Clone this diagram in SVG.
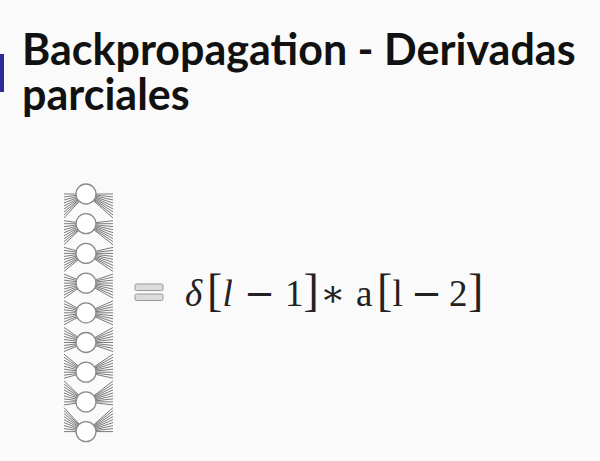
<svg xmlns="http://www.w3.org/2000/svg" width="600" height="461" viewBox="0 0 600 461">
<style>
.title{font-family:Lato,"Liberation Sans",sans-serif;font-weight:bold;font-size:43px;fill:#111}
.eq{font-family:"Liberation Serif","DejaVu Serif",serif;font-size:37px;fill:#222}
.it{font-style:italic}
.br{font-size:46px}
.op{font-family:"DejaVu Serif",serif;font-size:37px}
.edge{stroke:#7a7a7a;stroke-width:1;fill:none}
.node{fill:#fff;stroke:#8a8a8a;stroke-width:1.3}
.eqbar{fill:#dcdcdc;stroke:#999;stroke-width:1}
</style>
<rect width="600" height="461" fill="#fafafa"/>
<rect x="0" y="54" width="4" height="38" fill="#2e2a9c"/>
<text class="title" x="22" y="65">Backpropagation - Derivadas</text>
<text class="title" x="22" y="110">parciales</text>
<g id="connectors">
<path class="edge" d="M86 194L113 194M86 194L113 197M86 194L113 200M86 194L113 203M86 194L113 206M86 194L113 209M86 194L113 212M86 194L113 215M86 194L113 218
M86 194L64 194M86 194L64 197M86 194L64 200M86 194L64 203M86 194L64 206M86 194L64 209M86 194L64 212M86 194L64 215M86 194L64 218
M86 223.7L113 220.7M86 223.7L113 223.7M86 223.7L113 226.7M86 223.7L113 229.7M86 223.7L113 232.7M86 223.7L113 235.7M86 223.7L113 238.7M86 223.7L113 241.7M86 223.7L113 244.7
M86 223.7L64 220.7M86 223.7L64 223.7M86 223.7L64 226.7M86 223.7L64 229.7M86 223.7L64 232.7M86 223.7L64 235.7M86 223.7L64 238.7M86 223.7L64 241.7M86 223.7L64 244.7
M86 253.4L113 247.4M86 253.4L113 250.4M86 253.4L113 253.4M86 253.4L113 256.4M86 253.4L113 259.4M86 253.4L113 262.4M86 253.4L113 265.4M86 253.4L113 268.4M86 253.4L113 271.4
M86 253.4L64 247.4M86 253.4L64 250.4M86 253.4L64 253.4M86 253.4L64 256.4M86 253.4L64 259.4M86 253.4L64 262.4M86 253.4L64 265.4M86 253.4L64 268.4M86 253.4L64 271.4
M86 283.1L113 274.1M86 283.1L113 277.1M86 283.1L113 280.1M86 283.1L113 283.1M86 283.1L113 286.1M86 283.1L113 289.1M86 283.1L113 292.1M86 283.1L113 295.1M86 283.1L113 298.1
M86 283.1L64 274.1M86 283.1L64 277.1M86 283.1L64 280.1M86 283.1L64 283.1M86 283.1L64 286.1M86 283.1L64 289.1M86 283.1L64 292.1M86 283.1L64 295.1M86 283.1L64 298.1
M86 312.8L113 300.8M86 312.8L113 303.8M86 312.8L113 306.8M86 312.8L113 309.8M86 312.8L113 312.8M86 312.8L113 315.8M86 312.8L113 318.8M86 312.8L113 321.8M86 312.8L113 324.8
M86 312.8L64 300.8M86 312.8L64 303.8M86 312.8L64 306.8M86 312.8L64 309.8M86 312.8L64 312.8M86 312.8L64 315.8M86 312.8L64 318.8M86 312.8L64 321.8M86 312.8L64 324.8
M86 342.5L113 327.5M86 342.5L113 330.5M86 342.5L113 333.5M86 342.5L113 336.5M86 342.5L113 339.5M86 342.5L113 342.5M86 342.5L113 345.5M86 342.5L113 348.5M86 342.5L113 351.5
M86 342.5L64 327.5M86 342.5L64 330.5M86 342.5L64 333.5M86 342.5L64 336.5M86 342.5L64 339.5M86 342.5L64 342.5M86 342.5L64 345.5M86 342.5L64 348.5M86 342.5L64 351.5
M86 372.2L113 354.2M86 372.2L113 357.2M86 372.2L113 360.2M86 372.2L113 363.2M86 372.2L113 366.2M86 372.2L113 369.2M86 372.2L113 372.2M86 372.2L113 375.2M86 372.2L113 378.2
M86 372.2L64 354.2M86 372.2L64 357.2M86 372.2L64 360.2M86 372.2L64 363.2M86 372.2L64 366.2M86 372.2L64 369.2M86 372.2L64 372.2M86 372.2L64 375.2M86 372.2L64 378.2
M86 401.9L113 380.9M86 401.9L113 383.9M86 401.9L113 386.9M86 401.9L113 389.9M86 401.9L113 392.9M86 401.9L113 395.9M86 401.9L113 398.9M86 401.9L113 401.9M86 401.9L113 404.9
M86 401.9L64 380.9M86 401.9L64 383.9M86 401.9L64 386.9M86 401.9L64 389.9M86 401.9L64 392.9M86 401.9L64 395.9M86 401.9L64 398.9M86 401.9L64 401.9M86 401.9L64 404.9
M86 431.6L113 407.6M86 431.6L113 410.6M86 431.6L113 413.6M86 431.6L113 416.6M86 431.6L113 419.6M86 431.6L113 422.6M86 431.6L113 425.6M86 431.6L113 428.6M86 431.6L113 431.6
M86 431.6L64 407.6M86 431.6L64 410.6M86 431.6L64 413.6M86 431.6L64 416.6M86 431.6L64 419.6M86 431.6L64 422.6M86 431.6L64 425.6M86 431.6L64 428.6M86 431.6L64 431.6"/>
</g>
<g id="n1"><circle class="node" cx="86" cy="194" r="10"/></g>
<g id="n2"><circle class="node" cx="86" cy="223.7" r="10"/></g>
<g id="n3"><circle class="node" cx="86" cy="253.4" r="10"/></g>
<g id="n4"><circle class="node" cx="86" cy="283.1" r="10"/></g>
<g id="n5"><circle class="node" cx="86" cy="312.8" r="10"/></g>
<g id="n6"><circle class="node" cx="86" cy="342.5" r="10"/></g>
<g id="n7"><circle class="node" cx="86" cy="372.2" r="10"/></g>
<g id="n8"><circle class="node" cx="86" cy="401.9" r="10"/></g>
<g id="n9"><circle class="node" cx="86" cy="431.6" r="10"/></g>
<g id="equation">
<rect class="eqbar" x="135" y="284" width="28" height="6.5" rx="1.5"/>
<rect class="eqbar" x="135" y="294" width="28" height="6.5" rx="1.5"/>
<text class="eq" y="306"><tspan class="it" x="185">δ</tspan><tspan class="br" x="207">[</tspan><tspan class="it" x="222.5">l</tspan><tspan class="op" x="244">−</tspan><tspan x="285">1</tspan><tspan class="br" x="303.5">]</tspan><tspan x="320">∗</tspan><tspan x="356">a</tspan><tspan class="br" x="377">[</tspan><tspan x="392.5">l</tspan><tspan class="op" x="411">−</tspan><tspan x="449">2</tspan><tspan class="br" x="468">]</tspan></text>
</g>
</svg>
